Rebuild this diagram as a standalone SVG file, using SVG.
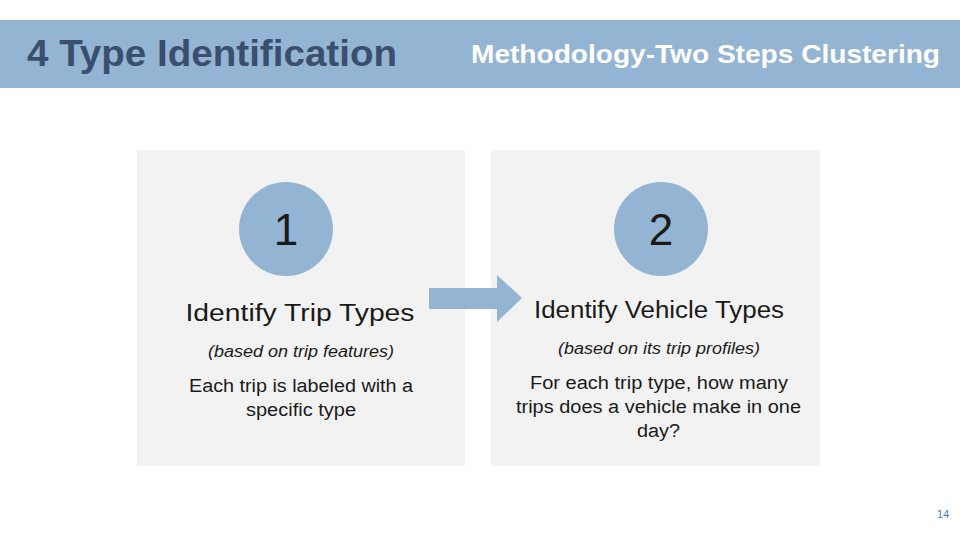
<svg xmlns="http://www.w3.org/2000/svg" width="960" height="540" viewBox="0 0 960 540">
<style>
text{font-family:"Liberation Sans",Arial,sans-serif;fill:#1a1a1a}
.panel{fill:#f2f2f2}
.circ{fill:#93b4d2}
.num{font-size:44px;text-anchor:middle}
.h{font-size:23px;text-anchor:middle}
.i{font-size:16px;font-style:italic;text-anchor:middle}
.b{font-size:18px;text-anchor:middle}
</style>
<rect width="960" height="540" fill="#fff"/>
<g id="header">
<rect x="0" y="20" width="960" height="68" fill="#93b4d2"/>
<text x="27" y="66" textLength="370" lengthAdjust="spacingAndGlyphs" style="font-size:36px;font-weight:bold;fill:#3a4f6e">4 Type Identification</text>
<text x="471" y="63" textLength="469" lengthAdjust="spacingAndGlyphs" style="font-size:25px;font-weight:bold;fill:#fff">Methodology-Two Steps Clustering</text>
</g>
<g id="step1">
<rect class="panel" x="137" y="150" width="328" height="316"/>
<circle class="circ" cx="286" cy="229" r="47"/>
<text class="num" x="286" y="245">1</text>
<text class="h" x="300" y="321" textLength="229" lengthAdjust="spacingAndGlyphs">Identify Trip Types</text>
<text class="i" x="301" y="357" textLength="186" lengthAdjust="spacingAndGlyphs">(based on trip features)</text>
<text class="b" x="301" y="392" textLength="224" lengthAdjust="spacingAndGlyphs">Each trip is labeled with a</text>
<text class="b" x="301" y="416" textLength="110" lengthAdjust="spacingAndGlyphs">specific type</text>
</g>
<g id="step2">
<rect class="panel" x="491" y="150" width="329" height="316"/>
<circle class="circ" cx="661" cy="229" r="47"/>
<text class="num" x="661" y="245">2</text>
<text class="h" x="659" y="318" textLength="250" lengthAdjust="spacingAndGlyphs">Identify Vehicle Types</text>
<text class="i" x="659" y="354" textLength="202" lengthAdjust="spacingAndGlyphs">(based on its trip profiles)</text>
<text class="b" x="659" y="389" textLength="258" lengthAdjust="spacingAndGlyphs">For each trip type, how many</text>
<text class="b" x="658.5" y="413" textLength="285" lengthAdjust="spacingAndGlyphs">trips does a vehicle make in one</text>
<text class="b" x="658.5" y="437" textLength="43" lengthAdjust="spacingAndGlyphs">day?</text>
</g>
<g id="connectors">
<polygon points="429,288 497,288 497,275 522,298 497,322 497,309 429,309" fill="#93b4d2"/>
</g>
<text x="943" y="518" style="font-size:11px;fill:#4a7ab0;text-anchor:middle">14</text>
</svg>
